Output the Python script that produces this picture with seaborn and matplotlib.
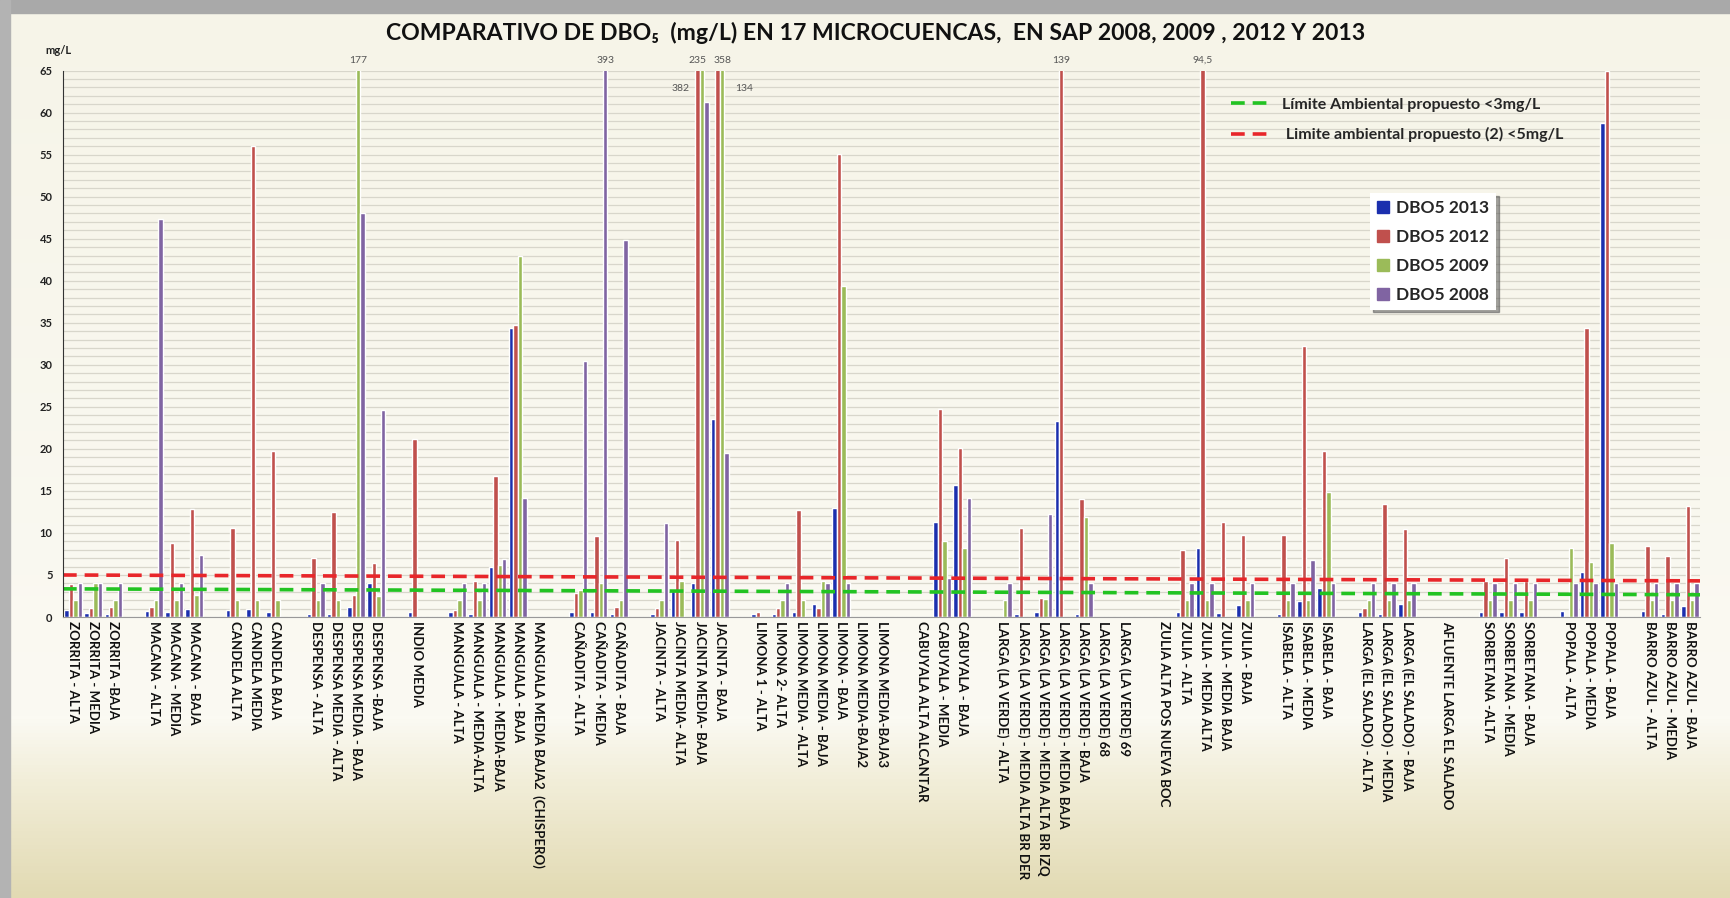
import matplotlib.pyplot as plt
import matplotlib.patches as mpatches
from matplotlib.colors import LinearSegmentedColormap
from matplotlib.ticker import MultipleLocator
import numpy as np
import pandas as pd
import seaborn as sns

# Sampling points (empty strings are the blank separators between microcuencas)
sites = [
    "ZORRITA - ALTA", "ZORRITA - MEDIA", "ZORRITA -BAJA", "",
    "MACANA - ALTA", "MACANA - MEDIA", "MACANA - BAJA", "",
    "CANDELA ALTA", "CANDELA MEDIA", "CANDELA BAJA", "",
    "DESPENSA - ALTA", "DESPENSA MEDIA - ALTA", "DESPENSA MEDIA - BAJA", "DESPENSA -BAJA", "",
    "INDIO MEDIA", "",
    "MANGUALA - ALTA", "MANGUALA - MEDIA-ALTA", "MANGUALA - MEDIA-BAJA", "MANGUALA - BAJA",
    "MANGUALA MEDIA BAJA2  (CHISPERO)", "",
    "CAÑADITA - ALTA", "CAÑADITA - MEDIA", "CAÑADITA - BAJA", "",
    "JACINTA - ALTA", "JACINTA MEDIA- ALTA", "JACINTA MEDIA- BAJA", "JACINTA - BAJA", "",
    "LIMONA 1 - ALTA", "LIMONA 2- ALTA", "LIMONA MEDIA - ALTA", "LIMONA MEDIA - BAJA",
    "LIMONA - BAJA", "LIMONA MEDIA-BAJA2", "LIMONA MEDIA-BAJA3", "",
    "CABUYALA ALTA ALCANTAR", "CABUYALA - MEDIA", "CABUYALA - BAJA", "",
    "LARGA (LA VERDE) - ALTA", "LARGA (LA VERDE) - MEDIA ALTA BR DER",
    "LARGA (LA VERDE) - MEDIA ALTA BR IZQ", "LARGA (LA VERDE) - MEDIA BAJA",
    "LARGA (LA VERDE) - BAJA", "LARGA (LA VERDE) 68", "LARGA (LA VERDE) 69", "",
    "ZULIA ALTA POS NUEVA BOC", "ZULIA - ALTA", "ZULIA - MEDIA ALTA", "ZULIA - MEDIA BAJA",
    "ZULIA - BAJA", "",
    "ISABELA - ALTA", "ISABELA - MEDIA", "ISABELA - BAJA", "",
    "LARGA (EL SALADO) - ALTA", "LARGA (EL SALADO) - MEDIA", "LARGA (EL SALADO) - BAJA", "",
    "AFLUENTE LARGA EL SALADO", "",
    "SORBETANA -ALTA", "SORBETANA - MEDIA", "SORBETANA - BAJA", "",
    "POPALA - ALTA", "POPALA - MEDIA", "POPALA - BAJA", "",
    "BARRO AZUL - ALTA", "BARRO AZUL - MEDIA", "BARRO AZUL - BAJA",
]

# DBO5 (mg/L) per year, same order as sites (None = no data / separator)
dbo5_2013 = [0.8, 0.5, 0.4, None, 0.7, 0.6, 1.0, None, 0.8, 0.9, 0.6, None,
             0.4, 0.4, 1.2, 4.0, None, 0.6, None, 0.6, 0.4, 5.9, 34.4, None, None,
             0.6, 0.6, 0.4, None, 0.4, 3.1, 4.0, 23.5, None,
             0.4, 0.4, 0.6, 1.6, 13.0, None, None, None, None, 11.3, 15.7, None,
             None, 0.4, 0.6, 23.3, 0.4, None, None, None,
             None, 0.6, 8.2, 0.5, 1.4, None, 0.4, 1.9, 3.4, None,
             0.6, 0.4, 1.6, None, None, None, 0.6, 0.6, 0.6, None,
             0.7, 5.3, 58.8, None, 0.7, 0.4, 1.3]
dbo5_2012 = [3.9, 1.1, 1.2, None, 1.2, 8.8, 12.8, None, 10.6, 56.0, 19.7, None,
             7.0, 12.5, 2.6, 6.4, None, 21.2, None, 0.8, 4.3, 16.8, 34.7, None, None,
             2.9, 9.6, 1.2, None, 1.1, 9.2, 382, 358, None,
             0.6, 1.1, 12.7, 1.1, 55.1, None, None, None, None, 24.8, 20.1, None,
             None, 10.6, 2.3, 139, 14.0, None, None, None,
             None, 8.0, 94.5, 11.3, 9.8, None, 9.8, 32.2, 19.8, None,
             1.1, 13.4, 10.5, None, None, None, 4.3, 7.0, 4.3, None,
             None, 34.4, 65.0, None, 8.5, 7.2, 13.2]
dbo5_2009 = [2.0, 4.0, 2.0, None, 2.0, 2.0, 2.6, None, 2.0, 2.0, 2.0, None,
             2.0, 2.0, 177, 2.5, None, None, None, 2.0, 2.0, 6.2, 42.9, None, None,
             3.2, 4.1, 2.0, None, 2.0, 4.3, 235, 134, None,
             None, 2.0, 2.0, 4.3, 39.4, None, None, None, None, 9.1, 8.2, None,
             2.0, None, 2.2, None, 11.9, None, None, None,
             None, 2.0, 2.0, None, 2.0, None, 2.0, 2.0, 14.9, None,
             2.0, 2.0, 2.0, None, None, None, 2.0, 2.0, 2.0, None,
             8.2, 6.6, 8.8, None, 2.0, 2.0, 2.0]
dbo5_2008 = [4.0, 4.0, 4.0, None, 47.3, 4.0, 7.4, None, None, None, None, None,
             4.0, None, 48.0, 24.6, None, None, None, 4.0, 4.0, 6.9, 14.1, None, None,
             30.4, 393, 44.9, None, 11.2, None, 61.3, 19.5, None,
             None, 4.0, None, 4.0, 4.0, None, None, None, None, 4.6, 14.1, None,
             4.0, None, 12.2, None, 4.0, None, None, None,
             None, 4.0, 4.0, None, 4.0, None, 4.0, 6.8, 4.0, None,
             4.0, 4.0, 4.0, None, None, None, 4.0, 4.0, 4.0, None,
             4.0, 4.0, 4.0, None, 4.0, 4.0, 4.0]

years = ["DBO5 2013", "DBO5 2012", "DBO5 2009", "DBO5 2008"]
colors = ["#1b2fae", "#c0504d", "#9bbb59", "#8064a2"]

# proposed limits, value at left and right end of the (slightly tilted) lines
limit_3 = [3.35, 2.65]
limit_5 = [5.0, 4.3]

# labels for off-scale bars: (site index, series, text)
off_scale = [(14, "DBO5 2009", "177"), (26, "DBO5 2008", "393"),
             (31, "DBO5 2012", "235"), (32, "DBO5 2009", "358"),
             (49, "DBO5 2012", "139"), (56, "DBO5 2012", "94,5")]
side_labels = [(31, "DBO5 2012", "382", "right"), (32, "DBO5 2008", "134", "left")]

sns.set_style("white")
plt.rcParams["font.family"] = ["Lato", "DejaVu Sans"]

slot_keys = [f"s{i:02d}" for i in range(len(sites))]
df = pd.DataFrame({"slot": slot_keys, years[0]: dbo5_2013, years[1]: dbo5_2012,
                   years[2]: dbo5_2009, years[3]: dbo5_2008})
df = df.melt(id_vars="slot", var_name="serie", value_name="dbo5")
df["dbo5"] = df["dbo5"].astype(float).fillna(0)

fig = plt.figure(figsize=(17.3, 8.98), dpi=100)

# slide-like background
bg = fig.add_axes([0, 0, 1, 1], zorder=-10)
cmap = LinearSegmentedColormap.from_list(
    "bg", [(0, "#f6f4e8"), (0.8, "#fbfaf3"), (0.87, "#f2eed9"), (1, "#e2dab3")])
bg.imshow(np.linspace(0, 1, 256).reshape(-1, 1), cmap=cmap, aspect="auto",
          extent=[0, 1, 0, 1])
bg.add_patch(mpatches.Rectangle((0, 0.986), 1, 0.014, color="#a9a9a9"))
bg.add_patch(mpatches.Rectangle((0, 0), 0.006, 1, color="#b3b3b3"))
bg.set_xlim(0, 1)
bg.set_ylim(0, 1)
bg.axis("off")

ax = fig.add_axes([0.0364, 0.3129, 0.9463, 0.6085])
ax.patch.set_alpha(0)

sns.barplot(data=df, x="slot", y="dbo5", hue="serie", order=slot_keys, hue_order=years,
            palette=colors, width=0.88, gap=0, errorbar=None, saturation=1,
            legend=False, ax=ax)

ax.set_ylim(0, 65)
ax.set_xlim(-0.5, len(sites) - 0.5)
ax.yaxis.set_major_locator(MultipleLocator(5))
ax.yaxis.set_minor_locator(MultipleLocator(1))
ax.grid(axis="y", which="both", color="#d8d6cb", linewidth=0.9)
ax.set_axisbelow(True)
ax.tick_params(axis="y", which="major", length=4, labelsize=8, colors="#222222")
ax.tick_params(axis="y", which="minor", length=2)
for lab in ax.get_yticklabels():
    lab.set_fontweight("bold")

ax.set_xticks(range(len(sites)))
ax.set_xticklabels(sites, rotation=270, fontsize=9.5, fontweight="bold", color="#111111")
ax.tick_params(axis="x", length=0, pad=3)
ax.set_xlabel("")
ax.set_ylabel("")
sns.despine(ax=ax, top=True, right=True)
ax.spines["left"].set_color("#333333")
ax.spines["bottom"].set_color("#999999")

# limit lines
x_ends = [-0.5, len(sites) - 0.5]
g_line, = ax.plot(x_ends, limit_3, color="#22c322", linewidth=2.6, dashes=(3.8, 2.2))
r_line, = ax.plot(x_ends, limit_5, color="#e8262a", linewidth=2.6, dashes=(3.8, 2.2))

# labels for bars that go off the scale
for idx, serie, txt in off_scale:
    p = ax.containers[years.index(serie)].patches[idx]
    ax.annotate(txt, (p.get_x() + p.get_width() / 2, 65), xytext=(0, 4),
                textcoords="offset points", ha="center", va="bottom", fontsize=7.5,
                color="#555555", annotation_clip=False)
for idx, serie, txt, side in side_labels:
    p = ax.containers[years.index(serie)].patches[idx]
    if side == "right":
        xy, dx = (p.get_x(), 65), -4
    else:
        xy, dx = (p.get_x() + p.get_width(), 65), 5
    ax.annotate(txt, xy, xytext=(dx, -13), textcoords="offset points", ha=side,
                va="center", fontsize=7.5, color="#555555", annotation_clip=False)

# legends
leg1 = ax.legend([g_line, r_line],
                 ["Límite Ambiental propuesto <3mg/L", " Limite ambiental propuesto (2) <5mg/L"],
                 loc="upper left", bbox_to_anchor=(0.703, 0.907), bbox_transform=fig.transFigure,
                 frameon=False, handlelength=2.4, labelspacing=0.95,
                 prop={"weight": "bold", "size": 11.5})
ax.add_artist(leg1)
bar_handles = [mpatches.Patch(color=c, label=y) for c, y in zip(colors, years)]
ax.legend(handles=bar_handles, loc="upper left", bbox_to_anchor=(0.787, 0.795),
          bbox_transform=fig.transFigure, frameon=True, facecolor="white", edgecolor="none",
          framealpha=1, shadow=True, fancybox=False, handlelength=0.7, handleheight=0.7,
          handletextpad=0.4, labelspacing=0.75, prop={"weight": "bold", "size": 12.5})

fig.text(0.506, 0.963,
         "COMPARATIVO DE DBO₅  (mg/L) EN 17 MICROCUENCAS,  EN SAP 2008, 2009 , 2012 Y 2013",
         ha="center", va="center", fontsize=16.6, fontweight="bold", color="#111111")
fig.text(0.0335, 0.944, "mg/L", ha="center", va="center", fontsize=8, fontweight="bold",
         color="#222222")

fig.savefig("out.png", dpi=100, facecolor=fig.get_facecolor())
